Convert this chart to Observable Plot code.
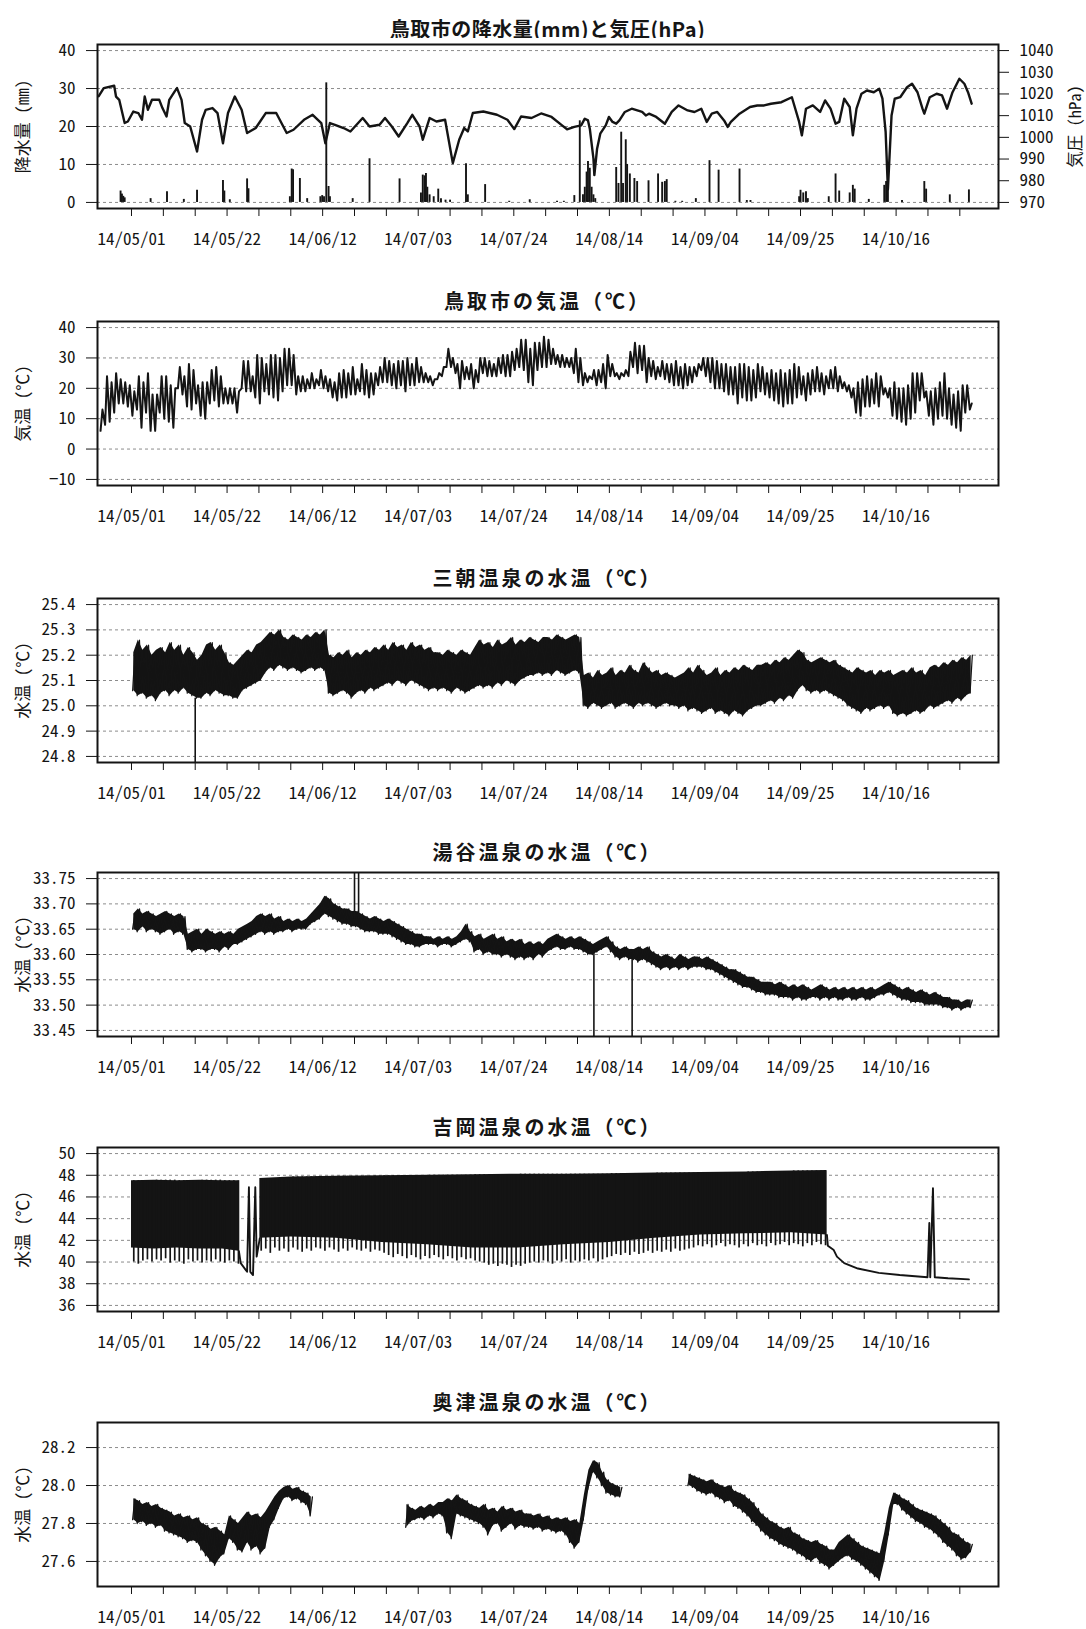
<!DOCTYPE html>
<html><head><meta charset="utf-8">
<script src="https://cdn.jsdelivr.net/npm/d3@7"></script>
<script src="https://cdn.jsdelivr.net/npm/@observablehq/plot@0.6"></script>
<style>
body{margin:0;background:#fff;}
#wrap{position:relative;width:1086px;height:1629px;overflow:hidden;background:#fff;}
.title{position:absolute;left:97px;width:901px;text-align:center;font-family:"Noto Sans CJK JP",sans-serif;font-weight:bold;font-size:20px;line-height:20px;letter-spacing:3px;color:#151515;white-space:nowrap;}
.panel{position:absolute;left:0;}
svg text{font-feature-settings:"hwid" 1;}
</style></head><body><div id="wrap"></div>
<script>
// ================= DATA =================
const xTickLabels = ["14/05/01","14/05/22","14/06/12","14/07/03","14/07/24","14/08/14","14/09/04","14/09/25","14/10/16"];

// Panel 1: precipitation (mm) and pressure (hPa); days counted from 2014-05-01
const rainDay = [-2.4,-2.1,-1.8,-1.5,4.2,7.8,11.5,14.4,20.1,20.4,21.6,25.4,25.7,34.8,35.2,35.5,37.0,38.6,41.5,41.9,42.3,42.8,43.3,43.6,48.6,52.3,58.9,63.6,64.0,64.4,64.7,65.0,65.5,66.4,67.4,68,69,70,73.5,73.9,77.7,83,87.5,93.5,95,97.3,98.5,99.2,99.6,100.0,100.3,100.7,101.1,101.5,101.9,106.5,107.0,107.6,108.0,108.6,108.9,109.5,110.5,111.1,113.6,115.7,116.6,117.2,117.6,119.5,121,124,127.0,129.0,133.6,135.2,136,146.7,147.0,147.6,148.2,148.6,153.2,154.7,155.5,157.8,158.5,158.9,162.0,165.4,165.8,166.2,169.3,174.2,174.6,179.8,184.0];
const rainMm = [3.0,2.2,1.6,1.2,1.0,2.8,0.8,3.2,5.8,3.0,0.7,6.2,3.6,1.5,8.8,8.6,6.3,1.0,1.5,1.8,1.5,31.5,4.2,1.5,1.0,11.5,6.2,2.5,7.2,7.0,7.6,4.0,2.0,1.5,3.5,1.0,0.6,0.6,10.2,2.0,4.7,0.3,0.7,0.3,0.3,1.8,21.5,2,4,8,10.8,9,4,2,1,9.2,5,18.5,5,16.5,10,7.5,6.3,5.5,5.7,7.5,5.3,5.5,6.0,0.3,0.3,1.0,11.0,8.5,8.8,0.5,0.5,1.5,3.2,2.5,2.8,1.0,1.5,7.5,3.0,2.5,4.5,3.5,0.8,4.5,5.5,4.0,0.5,5.5,3.5,2.0,3.3];
const pressDay = [-7.2,-6.1,-3.8,-3.4,-2.7,-1.5,-0.8,0.4,1.5,2.3,2.9,3.6,4.5,6.1,6.8,7.7,8.3,9.5,10,11,11.7,12.9,14.4,15.5,16.3,17.8,18.9,20.1,21.2,22.7,24.2,25.4,27.3,29.5,31.8,34.1,35.6,37.9,39.8,41.7,42.6,43.6,44.7,46.6,48.1,50.8,52.3,54.5,55.7,57.2,58.7,60.6,61.7,63.3,64,65.5,67,68.9,70.6,72,73.1,73.9,75,77.3,80.3,82.6,84.1,85.6,87.9,90,92.3,94.6,95.7,97.3,98.8,99.6,100.3,100.7,101.5,101.7,102.3,103,104.2,104.9,105.7,106.5,107.2,108.4,109.9,112.2,113,113.7,115.3,117.2,118.7,120.2,122.2,123.7,125.2,126.4,127.5,128.7,130.2,131,131.7,133.6,135.9,137.5,139,140.5,142.8,145.1,146.7,147.3,148.2,149.7,151.3,152.4,153.6,154.7,155.5,156.6,157.8,158.5,159.3,160.4,161.6,163.1,164.3,165,165.7,166.2,167,167.7,168.9,170.4,171.5,172.7,173.8,174.2,175.4,176.9,178.1,179.2,180.4,181.9,183,183.8,184.6];
const pressHpa = [1019,1022.7,1023.8,1018.8,1017.3,1006.6,1007.3,1011.9,1011.2,1008.1,1018.8,1012.7,1017.3,1017.3,1013.5,1009.6,1017.3,1021.2,1022.7,1017.3,1006.6,1005.0,993.5,1008.1,1012.7,1013.5,1011.2,997.3,1011.2,1018.8,1012.7,1002.0,1004.3,1011.2,1011.2,1002.0,1003.5,1008.1,1010.4,1006.6,997.3,1006.6,1005.8,1004.3,1002.7,1008.9,1005.0,1005.8,1008.9,1005.0,1000.4,1006.6,1010.4,1005.0,998.9,1008.9,1007.3,1008.1,988.1,998.9,1004.3,1002.7,1011.2,1011.9,1010.4,1008.1,1003.8,1009.6,1008.9,1011,1009.4,1005.5,1003.7,1004.8,1005.5,1008.6,1007.8,1004.0,990.2,982.6,994.8,1001.7,1005.5,1009.4,1007.1,1006.3,1007.8,1011.7,1013.2,1011.7,1010.1,1010.9,1009.4,1006.3,1011.7,1014.7,1012.4,1011.7,1013.2,1007.1,1010.9,1011.7,1007.8,1004.8,1007.1,1010.9,1014.0,1014.7,1014.7,1015.5,1016.2,1018.5,1007.1,1000.9,1013.2,1014.7,1011.7,1017.0,1013.2,1006.3,1007.1,1017.8,1014.0,1000.9,1013.2,1020.1,1021.6,1020.8,1022.4,1017.8,1002.5,976,1010.1,1017.8,1018.5,1023.1,1024.7,1020.8,1013.2,1010.9,1018.5,1020.1,1019.3,1013.2,1020.8,1027.0,1024.7,1020.8,1015.5];
const rainTicks = [0,10,20,30,40];
const hpaTicks = [970,980,990,1000,1010,1020,1030,1040];

// Panel 2: Tottori air temperature, daily high / low from 2014-04-24
const airStartDay = -7;
const airHi = [13,24,22,25,23,22,21,
19,24,22,25,18,18,24,24,21,20,27,24,28,26,21,22,22,26,27,24,20,20,20,19,29,29,24,31,30,28,31,
31,30,33,33,31,24,24,23,25,23,26,24,23,22,25,26,25,27,23,28,26,25,25,27,30,29,28,29,29,30,
28,30,27,25,24,23,25,27,33,30,28,29,27,28,26,30,30,29,28,30,31,31,32,33,36,36,33,35,35,37,36,
33,31,31,30,30,33,30,25,24,26,26,28,31,28,25,25,26,32,35,34,34,30,29,27,29,28,28,29,27,28,27,
27,28,30,30,30,29,28,28,27,27,28,28,27,26,28,27,25,26,25,26,25,26,28,27,24,25,26,27,25,24,
26,27,24,22,21,20,22,23,24,23,25,24,20,20,22,20,20,21,25,25,25,19,19,20,22,25,20,18,19,21,21,
15];
const airLo = [6,8,9,12,15,15,14,
11,13,7,12,6,6,12,10,9,7,20,18,14,13,15,11,10,15,16,14,15,15,15,12,20,19,19,17,15,19,18,
17,16,19,21,21,18,19,19,20,20,21,20,19,17,16,17,17,18,18,19,18,17,18,21,22,22,21,20,21,19,
21,21,22,22,22,21,23,24,27,27,25,20,23,23,20,22,25,24,24,24,25,24,24,26,27,26,22,21,26,27,27,
28,28,27,27,27,25,22,21,22,23,21,22,20,24,24,23,24,24,27,25,26,22,24,23,24,23,22,21,21,20,21,
22,24,26,24,22,20,20,19,18,18,15,17,16,16,17,19,18,17,16,15,14,15,15,17,18,16,18,19,19,18,
20,20,19,20,19,17,12,11,14,14,15,14,18,17,11,10,9,8,10,12,16,17,11,8,10,11,10,8,7,6,12,
13];
const airTicks = [-10,0,10,20,30,40];

// Panel 3: Misasa water temperature, daily band (from 2014-05-01)
const sanHi = [25.21,25.26,25.22,25.24,25.20,25.22,
25.23,25.21,25.25,25.22,25.24,25.20,25.23,25.21,
25.18,25.20,25.24,25.25,25.22,25.24,25.21,
25.17,25.16,25.18,
25.20,25.22,25.21,25.24,25.25,
25.27,25.29,25.28,25.30,25.27,
25.26,25.28,25.27,25.26,25.28,25.27,25.29,25.28,25.30,
25.20,25.19,25.21,25.20,25.22,25.19,25.21,25.20,25.22,25.21,25.23,25.22,
25.24,25.22,25.25,25.23,25.24,25.22,25.25,25.23,25.24,25.22,25.23,25.21,
25.21,25.20,25.22,25.21,25.20,25.22,25.21,25.20,25.23,25.26,
25.24,25.25,25.23,25.26,25.24,25.25,25.27,25.24,25.26,25.25,25.27,25.26,25.25,25.27,
25.27,25.26,25.28,25.27,25.26,25.27,25.28,25.27,
25.12,25.13,25.11,25.14,25.12,25.13,25.15,25.12,25.14,25.13,25.16,25.14,25.13,25.17,25.15,25.13,25.14,25.12,25.13,25.12,25.11,
25.12,25.13,25.15,25.13,25.16,25.14,25.12,25.13,25.15,25.12,25.14,25.13,25.15,25.14,25.16,25.15,25.14,25.16,
25.16,25.17,25.16,25.18,25.17,25.19,25.18,25.20,25.22,25.21,
25.18,25.17,25.18,25.19,25.18,25.17,25.18,25.16,25.15,
25.14,25.13,25.15,25.14,25.13,25.14,25.12,25.14,25.13,25.14,
25.12,25.13,25.14,25.13,25.15,25.13,25.14,25.12,
25.15,25.16,25.15,25.17,25.16,25.18,25.17,25.19,25.18,25.20];
const sanLo = [25.06,25.04,25.05,25.03,25.04,25.02,
25.05,25.06,25.04,25.06,25.05,25.07,25.05,25.04,
25.03,25.03,25.05,25.04,25.06,25.05,25.04,
25.04,25.03,25.03,
25.06,25.07,25.08,25.09,25.10,
25.13,25.15,25.14,25.16,25.15,
25.14,25.15,25.14,25.13,25.14,25.15,25.14,25.15,25.14,
25.05,25.04,25.05,25.06,25.05,25.03,25.05,25.06,25.05,25.07,25.06,25.07,
25.08,25.09,25.08,25.10,25.09,25.08,25.10,25.09,25.08,25.07,25.06,25.07,
25.06,25.07,25.06,25.05,25.07,25.06,25.05,25.06,25.07,25.08,
25.07,25.08,25.07,25.09,25.08,25.10,25.09,25.08,25.10,25.11,25.12,25.12,25.13,25.12,
25.13,25.12,25.14,25.13,25.12,25.13,25.14,25.13,
25.00,24.99,25.01,25.00,24.99,25.00,25.01,24.99,25.00,25.01,25.00,24.99,25.01,25.00,25.01,25.00,24.99,25.00,25.01,25.00,25.00,
24.99,25.00,24.98,24.99,24.98,24.97,24.98,24.99,24.97,24.98,24.97,24.96,24.98,24.97,24.96,24.98,24.99,25.00,
25.00,25.01,25.02,25.01,25.03,25.02,25.04,25.03,25.06,25.08,
25.06,25.05,25.06,25.05,25.06,25.05,25.04,25.03,25.02,
25.00,24.99,24.98,24.97,24.99,24.98,24.99,25.00,24.99,25.00,
24.97,24.96,24.97,24.96,24.97,24.98,24.97,24.98,
25.00,24.99,25.00,25.01,25.02,25.01,25.03,25.02,25.04,25.05];
const sanSpikeDay = [14.0];
const sanSpikeEnd = [24.70];
const sanTicks = [24.8,24.9,25.0,25.1,25.2,25.3,25.4];

// Panel 4: Yutani water temperature, daily band (from 2014-05-01)
const yuHi = [33.68,33.69,33.68,33.685,33.68,33.675,33.68,33.685,33.68,33.675,33.68,33.675,
33.64,33.645,33.65,33.64,33.65,33.645,33.64,33.645,
33.64,33.645,33.64,33.65,33.655,33.66,33.665,
33.675,33.68,33.675,33.68,33.67,33.675,33.665,33.67,33.665,33.67,33.665,33.67,
33.68,33.69,33.70,33.715,
33.71,33.70,33.695,33.69,33.69,33.685,
33.685,33.68,33.675,33.67,33.675,33.67,33.665,33.67,33.665,33.66,
33.655,33.65,33.645,33.64,33.64,
33.635,33.635,33.63,33.635,33.63,33.635,33.63,33.635,
33.645,33.66,33.645,
33.635,33.64,33.63,33.635,33.64,33.63,33.635,33.625,33.63,33.625,33.63,33.62,33.625,33.62,33.625,33.62,
33.63,33.635,33.64,33.635,33.63,33.635,33.63,33.635,33.63,33.625,
33.62,33.625,33.63,33.635,33.625,
33.615,33.61,33.615,33.61,33.61,
33.615,33.61,33.615,33.605,
33.60,33.595,33.60,33.595,33.59,33.60,33.595,33.59,33.595,
33.595,33.59,33.595,33.59,33.585,33.58,
33.575,33.57,33.57,33.565,33.56,33.555,33.555,33.55,33.545,33.545,
33.545,33.54,33.545,33.54,33.535,33.54,33.535,33.54,33.535,33.53,
33.535,33.54,33.535,33.53,33.535,33.53,33.535,33.53,33.535,33.53,33.535,33.53,33.535,33.53,33.535,33.54,33.545,
33.54,33.535,33.53,33.535,33.53,33.525,33.53,33.525,33.52,33.525,33.52,
33.515,33.515,33.51,33.51,33.505,33.51,33.51];
const yuLo = [33.65,33.645,33.655,33.645,33.65,33.645,33.64,33.645,33.65,33.64,33.645,33.64,
33.61,33.605,33.61,33.61,33.605,33.61,33.61,33.605,
33.615,33.61,33.62,33.62,33.625,33.63,33.635,
33.64,33.645,33.64,33.645,33.64,33.645,33.645,33.65,33.645,33.65,33.65,33.65,
33.66,33.665,33.67,33.68,
33.675,33.67,33.665,33.66,33.66,33.655,
33.655,33.65,33.645,33.645,33.645,33.64,33.64,33.64,33.635,33.63,
33.625,33.62,33.62,33.615,33.615,
33.62,33.62,33.62,33.615,33.62,33.62,33.615,33.62,
33.625,33.63,33.625,
33.605,33.61,33.60,33.605,33.60,33.60,33.595,33.60,33.595,33.59,33.595,33.59,33.595,33.59,33.60,33.595,
33.605,33.61,33.615,33.61,33.61,33.615,33.61,33.61,33.605,33.60,
33.60,33.605,33.61,33.615,33.605,
33.595,33.59,33.595,33.59,33.59,
33.585,33.59,33.585,33.58,
33.575,33.57,33.575,33.57,33.575,33.57,33.575,33.57,33.575,
33.575,33.575,33.57,33.57,33.565,33.56,
33.555,33.55,33.545,33.54,33.535,33.535,33.53,33.525,33.525,33.52,
33.52,33.52,33.515,33.515,33.515,33.51,33.515,33.51,33.51,33.515,
33.515,33.51,33.515,33.51,33.515,33.51,33.51,33.515,33.51,33.51,33.515,33.51,33.51,33.515,33.52,33.52,33.525,
33.52,33.515,33.51,33.51,33.505,33.505,33.505,33.50,33.50,33.50,33.50,
33.495,33.495,33.49,33.495,33.49,33.495,33.495];
const yuSpikeDay = [49.0,49.9,101.6,110.0];
const yuSpikeEnd = [33.80,33.80,33.40,33.40];
const yuTicks = [33.45,33.50,33.55,33.60,33.65,33.70,33.75];

// Panel 5: Yoshioka water temperature
const yoshiBandDay  = [0,5,10,15,20,23.6,24,28.2,35,45,55,65,75,85,95,105,115,125,135,145,152.8];
const yoshiBandTop  = [47.5,47.55,47.5,47.55,47.5,47.5,null,47.7,47.85,47.9,47.95,48.0,48.05,48.1,48.1,48.15,48.2,48.25,48.3,48.4,48.45];
const yoshiBandBase = [41.3,41.2,41.3,41.2,41.2,41.0,null,42.2,42.3,42.2,41.8,41.6,41.3,41.3,41.6,41.8,42.2,42.5,42.6,42.7,42.5];
const yoshiLowStart = [0,28];
const yoshiLowA = [40.0,39.8,40.1,40.2,40.0,40.2,40.1,40.3,39.9,40.1,40.0,39.8,40.2,40.0,40.1,39.9,40.1,40.0,40.2,40.0,39.9,40.1,40.0,39.8];
const yoshiLowB = [41.0,41.2,40.8,41.3,41.0,41.2,40.9,41.3,41.1,40.9,41.2,41.0,41.3,
41.2,41.0,41.3,41.1,40.9,41.2,41.0,41.3,41.1,41.0,41.2,40.9,41.1,41.0,40.8,
40.6,40.4,40.7,40.5,40.3,40.6,40.4,40.2,40.5,40.3,40.6,40.4,40.2,40.5,40.3,40.1,40.4,40.2,40.3,40.1,40.0,
39.9,39.7,39.8,39.6,39.8,39.7,39.5,39.7,39.6,39.8,39.9,
40.0,39.9,40.1,40.0,39.8,40.1,40.0,40.2,39.9,40.1,40.0,40.2,40.1,40.3,40.0,40.2,40.4,
40.5,40.7,40.6,40.8,40.6,40.9,40.7,40.8,41.0,40.8,41.0,40.9,41.1,40.9,41.2,41.0,41.1,41.2,
41.3,41.5,41.4,41.6,41.3,41.5,41.7,41.4,41.6,41.5,41.3,41.6,41.4,41.7,41.5,41.6,41.4,41.7,41.5,41.6,41.8,41.5,41.7,41.6,41.4,41.7,41.5,41.8,41.6,41.5];
const yoshiLineDay = [23.6,24.0,25.4,25.8,26.1,26.7,27.2,27.5,28.2,90,152.8,153.0,154.3,155.0,156.6,159.6,164.2,168.8,174.9,175.3,175.5,176.1,176.5,179.4,184.0];
const yoshiLineVal = [41.0,39.9,39.1,46.9,39.1,38.8,46.9,40.5,42.2,null,42.5,41.5,41.1,40.5,39.9,39.4,39.0,38.8,38.6,43.6,38.6,46.8,38.6,38.5,38.4];
const yoshiTicks = [36,38,40,42,44,46,48,50];

// Panel 6: Okutsu water temperature, three recorded segments
const okuStart = [0,60,122];
const okuHiA = [27.93,27.92,27.90,27.91,27.89,27.90,27.88,27.87,27.86,27.84,27.85,27.83,27.84,27.82,27.83,27.80,27.79,27.77,27.78,27.76,27.74,27.84,27.82,27.80,27.83,27.86,27.84,27.85,27.83,27.86,27.90,27.94,27.97,27.99,28.00,27.98,27.99,27.97,27.96,27.94];
const okuLoA = [27.82,27.80,27.81,27.79,27.80,27.78,27.79,27.76,27.75,27.74,27.73,27.72,27.70,27.71,27.70,27.66,27.63,27.60,27.58,27.62,27.64,27.72,27.70,27.66,27.65,27.70,27.66,27.68,27.64,27.67,27.78,27.82,27.88,27.93,27.94,27.92,27.93,27.91,27.90,27.84];
const okuHiB = [27.90,27.88,27.87,27.89,27.88,27.90,27.89,27.91,27.91,27.93,27.92,27.95,27.93,27.92,27.90,27.89,27.88,27.90,27.87,27.88,27.86,27.89,27.87,27.88,27.86,27.87,27.85,27.85,27.84,27.85,27.83,27.84,27.82,27.83,27.82,27.83,27.81,27.82,27.80,27.95,28.08,28.13,28.12,28.07,28.03,28.01,28.00,27.99];
const okuLoB = [27.78,27.81,27.82,27.83,27.82,27.84,27.83,27.85,27.84,27.75,27.72,27.85,27.84,27.83,27.82,27.81,27.80,27.78,27.74,27.79,27.80,27.76,27.78,27.80,27.77,27.79,27.78,27.78,27.77,27.78,27.76,27.77,27.76,27.75,27.76,27.74,27.70,27.67,27.70,27.82,27.98,28.07,28.04,28.00,27.96,27.95,27.94,27.94];
const okuHiC = [28.06,28.05,28.04,28.03,28.02,28.03,28.01,28.00,27.99,28.00,27.97,27.96,27.95,27.93,27.91,27.88,27.85,27.83,27.81,27.80,27.78,27.77,27.78,27.75,27.74,27.72,27.71,27.70,27.71,27.69,27.68,27.66,27.66,27.70,27.72,27.74,27.72,27.70,27.68,27.67,27.66,27.65,27.64,27.75,27.88,27.96,27.95,27.93,27.92,27.90,27.88,27.87,27.86,27.85,27.84,27.82,27.80,27.78,27.75,27.74,27.72,27.70,27.69];
const okuLoC = [28.00,27.99,27.97,27.96,27.95,27.96,27.94,27.93,27.91,27.92,27.89,27.88,27.86,27.84,27.81,27.79,27.76,27.74,27.72,27.71,27.69,27.68,27.67,27.66,27.64,27.63,27.61,27.60,27.62,27.59,27.58,27.56,27.58,27.60,27.62,27.63,27.61,27.60,27.58,27.56,27.54,27.52,27.50,27.60,27.74,27.90,27.90,27.87,27.85,27.83,27.81,27.80,27.78,27.77,27.75,27.73,27.70,27.68,27.66,27.63,27.61,27.62,27.65];
const okuTicks = [27.6,27.8,28.0,28.2];

// ================= BUILD =================
const dayToDate = d => new Date(Date.UTC(2014, 4, 1) + d * 864e5);
const xDomain = [dayToDate(-7.47), dayToDate(190.5)];
const parseLabel = d3.utcParse("%y/%m/%d");
const fmtLabel = d3.utcFormat("%y/%m/%d");
const labelDates = xTickLabels.map(parseLabel);
const weekDates = d3.range(0, 183, 7).map(dayToDate);
const fixed = digits => d => d.toFixed(digits);
const INK = "#141414";
const TICK_FONT = '"Noto Sans CJK JP", "Liberation Sans", sans-serif';

function bandRows(hi, lo, start, seg) {
  return hi.map((h, i) => ({t: dayToDate(start + i + 0.5), hi: h, lo: lo[i], seg}));
}
function zigRows(hi, lo, start, seg) {
  return hi.flatMap((h, i) => [
    {t: dayToDate(start + i + 0.25), v: lo[i], seg},
    {t: dayToDate(start + i + 0.75), v: h, seg}
  ]);
}

function makePanel(cfg) {
  const wrap = document.getElementById("wrap");
  const title = document.createElement("div");
  title.className = "title";
  title.style.top = (cfg.top - (cfg.titleGap || 30)) + "px";
  if (cfg.titleSpacing != null) title.style.letterSpacing = cfg.titleSpacing + "px";
  title.textContent = cfg.title;
  wrap.appendChild(title);
  const frameH = 164, mt = 6, mb = 48;
  const marks = [
    Plot.gridY(cfg.yTicks, {stroke: "#8c8c8c", strokeOpacity: 1, strokeWidth: 1, strokeDasharray: "3,3"}),
    ...cfg.marks,
    Plot.frame({stroke: INK, strokeWidth: 2}),
    Plot.axisY(cfg.yTicks, {tickSize: 11, tickPadding: 11, tickFormat: cfg.yFormat, label: null, fontSize: 17}),
    Plot.axisX(weekDates, {tickSize: 8, tickFormat: () => "", label: null}),
    Plot.axisX(labelDates, {tickSize: 0, tickPadding: 24, tickFormat: fmtLabel, label: null, fontSize: 17}),
    Plot.text([cfg.yLabel], {text: d => d, frameAnchor: "left", dx: -74, rotate: -90, textAnchor: "middle", lineAnchor: "middle", fontSize: 17, fontFamily: "Noto Sans CJK JP", fill: INK}),
    ...(cfg.extra || [])
  ];
  const svg = Plot.plot({
    width: 1086, height: frameH + mt + mb,
    marginTop: mt, marginBottom: mb, marginLeft: 97, marginRight: 88,
    style: {fontFamily: TICK_FONT, fontSize: "17px", color: INK, background: "white", overflow: "visible"},
    x: {type: "utc", domain: xDomain},
    y: {domain: cfg.yDomain},
    marks
  });
  const holder = document.createElement("div");
  holder.className = "panel";
  holder.style.top = (cfg.top - mt) + "px";
  holder.appendChild(svg);
  wrap.appendChild(holder);
}

// ---- Panel 1 ----
const toMm = p => (p - 970) * 40 / 70;
const rainRows = rainDay.map((d, i) => ({t: dayToDate(d), mm: rainMm[i]}));
const pressRows = pressDay.map((d, i) => ({t: dayToDate(d), y: toMm(pressHpa[i])}));
makePanel({
  top: 44, title: "鳥取市の降水量(mm)と気圧(hPa)", titleGap: 25, titleSpacing: 0.5, yLabel: "降水量 (mm)",
  yDomain: [-1.6, 41.6], yTicks: rainTicks, yFormat: d => String(d),
  marks: [
    Plot.ruleX(rainRows, {x: "t", y1: 0, y2: "mm", stroke: INK, strokeWidth: 1.9}),
    Plot.line(pressRows, {x: "t", y: "y", stroke: INK, strokeWidth: 2.4})
  ],
  extra: [
    Plot.axisY(hpaTicks.map(toMm), {anchor: "right", tickSize: 10, tickPadding: 11, tickFormat: d => String(Math.round(970 + d * 70 / 40)), label: null, fontSize: 17}),
    Plot.text(["気圧 (hPa)"], {text: d => d, frameAnchor: "right", dx: 77, rotate: -90, textAnchor: "middle", lineAnchor: "middle", fontSize: 16.5, fontFamily: "Noto Sans CJK JP", fill: INK})
  ]
});

// ---- Panel 2 ----
const airRows = airHi.flatMap((h, i) => [
  {t: dayToDate(airStartDay + i + 0.2), v: airLo[i]},
  {t: dayToDate(airStartDay + i + 0.62), v: h}
]);
makePanel({
  top: 321, title: "鳥取市の気温（℃）", yLabel: "気温 (℃)",
  yDomain: [-12, 42], yTicks: airTicks, yFormat: d => String(d).replace("-", "\u2212"),
  marks: [Plot.line(airRows, {x: "t", y: "v", stroke: INK, strokeWidth: 2})]
});

// ---- Panel 3 ----
const sanBand = bandRows(sanHi, sanLo, 0, 0);
const sanZig = zigRows(sanHi, sanLo, 0, 0);
const sanSpikes = sanSpikeDay.map((d, i) => ({t: dayToDate(d), y1: sanLo[Math.floor(d)], y2: sanSpikeEnd[i]}));
makePanel({
  top: 598, title: "三朝温泉の水温（℃）", yLabel: "水温 (℃)",
  yDomain: [24.776, 25.424], yTicks: sanTicks, yFormat: fixed(1),
  marks: [
    Plot.areaY(sanBand, {x: "t", y1: "lo", y2: "hi", fill: INK}),
    Plot.line(sanZig, {x: "t", y: "v", stroke: INK, strokeWidth: 1.2}),
    Plot.ruleX(sanSpikes, {x: "t", y1: "y1", y2: "y2", stroke: INK, strokeWidth: 1.6, clip: true})
  ]
});

// ---- Panel 4 ----
const yuBand = bandRows(yuHi, yuLo, 0, 0);
const yuZig = zigRows(yuHi, yuLo, 0, 0);
const yuSpikes = yuSpikeDay.map((d, i) => {
  const k = Math.floor(d);
  return {t: dayToDate(d), y1: (yuHi[k] + yuLo[k]) / 2, y2: yuSpikeEnd[i]};
});
makePanel({
  top: 872, title: "湯谷温泉の水温（℃）", yLabel: "水温 (℃)",
  yDomain: [33.438, 33.762], yTicks: yuTicks, yFormat: fixed(2),
  marks: [
    Plot.areaY(yuBand, {x: "t", y1: "lo", y2: "hi", fill: INK}),
    Plot.line(yuZig, {x: "t", y: "v", stroke: INK, strokeWidth: 1.3}),
    Plot.ruleX(yuSpikes, {x: "t", y1: "y1", y2: "y2", stroke: INK, strokeWidth: 1.6, clip: true})
  ]
});

// ---- Panel 5 ----
const yoshiBand = yoshiBandDay.map((d, i) => ({t: dayToDate(d), top: yoshiBandTop[i], base: yoshiBandBase[i]}));
const yoshiTeeth = [
  ...yoshiLowA.map((v, i) => ({d: yoshiLowStart[0] + i + 0.5, v})),
  ...yoshiLowB.map((v, i) => ({d: yoshiLowStart[1] + i + 0.5, v}))
].map(r => {
  const k = d3.bisectRight(yoshiBandDay, r.d) - 1;
  return {t: dayToDate(r.d), low: r.v, up: yoshiBandTop[k]};
});
const yoshiLine = yoshiLineDay.map((d, i) => ({t: dayToDate(d), v: yoshiLineVal[i]}));
makePanel({
  top: 1147, title: "吉岡温泉の水温（℃）", yLabel: "水温 (℃)",
  yDomain: [35.44, 50.56], yTicks: yoshiTicks, yFormat: d => String(d),
  marks: [
    Plot.areaY(yoshiBand, {x: "t", y1: "base", y2: "top", fill: INK}),
    Plot.ruleX(yoshiTeeth, {x: "t", y1: "low", y2: "up", stroke: INK, strokeWidth: 1.7}),
    Plot.line(yoshiLine, {x: "t", y: "v", stroke: INK, strokeWidth: 1.9})
  ]
});

// ---- Panel 6 ----
const okuBand = [
  ...bandRows(okuHiA, okuLoA, okuStart[0], 0),
  ...bandRows(okuHiB, okuLoB, okuStart[1], 1),
  ...bandRows(okuHiC, okuLoC, okuStart[2], 2)
];
const okuZig = [
  ...zigRows(okuHiA, okuLoA, okuStart[0], 0),
  ...zigRows(okuHiB, okuLoB, okuStart[1], 1),
  ...zigRows(okuHiC, okuLoC, okuStart[2], 2)
];
makePanel({
  top: 1422, title: "奥津温泉の水温（℃）", yLabel: "水温 (℃)",
  yDomain: [27.468, 28.332], yTicks: okuTicks, yFormat: fixed(1),
  marks: [
    Plot.areaY(okuBand, {x: "t", y1: "lo", y2: "hi", z: "seg", fill: INK}),
    Plot.line(okuZig, {x: "t", y: "v", z: "seg", stroke: INK, strokeWidth: 1.3})
  ]
});
</script></body></html>
